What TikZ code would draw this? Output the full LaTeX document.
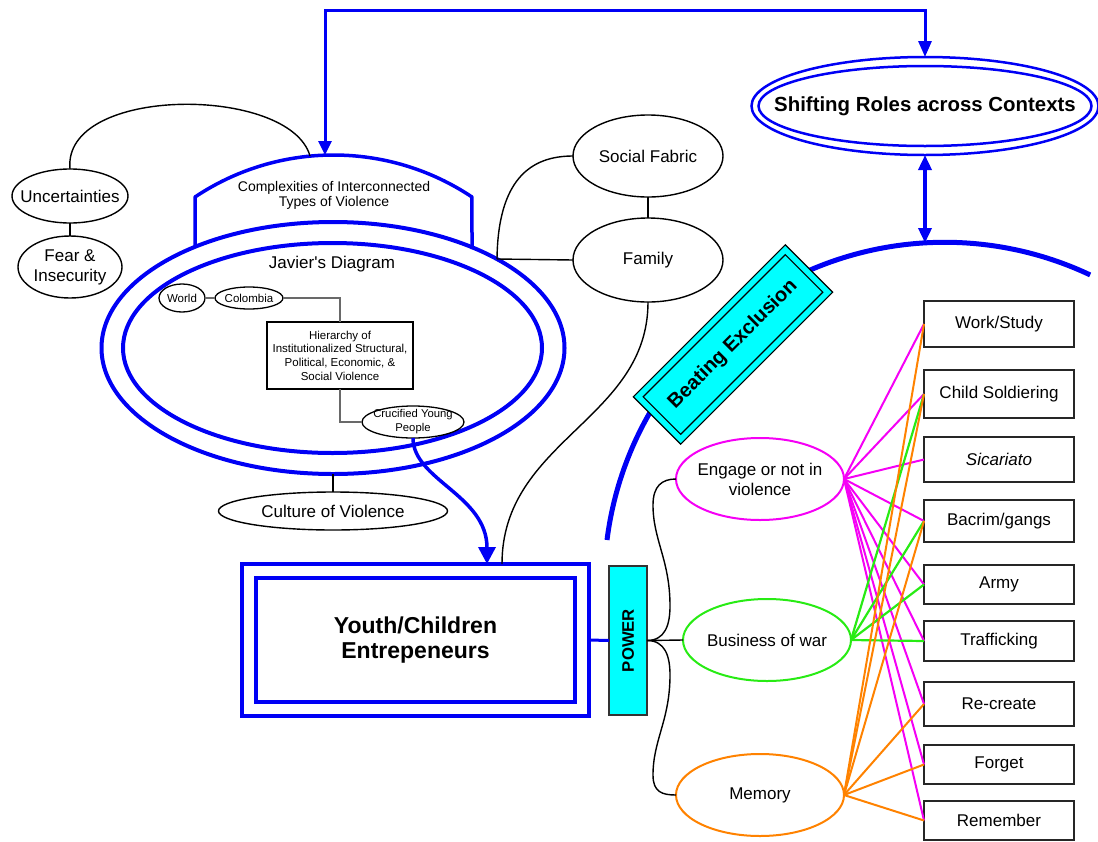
\documentclass[tikz,border=0pt]{standalone}
\usepackage{fontspec}
\usepackage{graphicx}
\setmainfont{Liberation Sans}
% same face without TeX ligature mapping, for a straight apostrophe
\newfontfamily\plainsans{Liberation Sans}
\usetikzlibrary{shapes.geometric,arrows.meta}

\definecolor{cmblue}{RGB}{0,0,245}
\definecolor{cmcyan}{RGB}{0,255,255}
\definecolor{cmmag}{RGB}{245,0,245}
\definecolor{cmgreen}{RGB}{40,235,20}
\definecolor{cmorange}{RGB}{255,130,0}
\definecolor{cmgray}{RGB}{105,105,105}

\newcommand\fsz[2]{\fontsize{#1}{#2}\selectfont}

\begin{document}
\begin{tikzpicture}[x=1pt,y=-1pt,
  every node/.style={inner sep=0pt, outer sep=0pt, text=black},
  oval/.style={ellipse, draw, line width=1.4pt, inner sep=-40pt, align=center, font=\fsz{17}{20}},
  smalloval/.style={ellipse, draw, line width=1.3pt, inner sep=-30pt, align=center},
  conn/.style={line width=1.4pt},
  grayconn/.style={cmgray, line width=1.1pt},
  role/.style={draw=black!85, line width=1.5pt, minimum width=150pt, font=\fsz{17}{20}},
  choice/.style={oval, line width=2pt, minimum width=168pt, minimum height=82pt},
  mlink/.style={cmmag, line width=2pt},
  glink/.style={cmgreen, line width=2.2pt},
  olink/.style={cmorange, line width=2pt},
  bigtip/.style={-{Triangle[length=17pt,width=17pt]}}
]
\useasboundingbox (0,0) rectangle (1098,841);

% ---------- Javier's diagram: two nested ellipses ----------
\node[ellipse, draw=cmblue, line width=4pt, minimum width=463pt, minimum height=252pt] (outerJ) at (333,348) {};
\node[ellipse, draw=cmblue, line width=4pt, minimum width=419pt, minimum height=210pt] (innerJ) at (332.5,348) {};
\node[font=\fsz{17}{20}] (jav) at (332,264) {Javier{\plainsans '}s Diagram};

% dome on top of the outer ellipse
\coordinate (domeL) at (195,247);
\coordinate (domeR) at (472,249);
\coordinate (domeTop) at (325,155);
\coordinate (domeEdge) at (310,156);
\draw[cmblue, line width=3.5pt, line join=round] (domeL) -- (195,197)
  arc[start angle=123.74, end angle=56.26, radius=249.36pt] -- (domeR);
\node[font=\fsz{14}{15.5}, align=center] (cplx) at (334,195.5) {Complexities of Interconnected\\Types of Violence};

% inner items
\node[smalloval, minimum width=46pt, minimum height=28pt, font=\fsz{11.5}{13}] (world) at (182,298) {World};
\node[smalloval, minimum width=68pt, minimum height=22pt, font=\fsz{11.5}{13}] (colombia) at (249,298) {Colombia};
\node[draw, line width=1.3pt, minimum width=146pt, minimum height=67pt, align=center, font=\fsz{11.5}{13.7}] (hier) at (340,355.5)
  {Hierarchy of\\Institutionalized Structural,\\Political, Economic, \&\\Social Violence};
\node[smalloval, minimum width=102pt, minimum height=32pt, font=\fsz{11.3}{14}] (cruc) at (413,422) {Crucified Young\\People};
\draw[grayconn] (world) -- (colombia);
\draw[grayconn] (colombia.east) -| (hier.north);
\draw[grayconn] (hier.south) |- (cruc.west);

% culture of violence
\node[oval, minimum width=229pt, minimum height=38pt] (culture) at (333,511) {Culture of Violence};
\draw[conn] (outerJ.south) -- (culture.north);

% ---------- upper left ----------
\node[oval, minimum width=116pt, minimum height=54pt] (unc) at (70,196) {Uncertainties};
\node[oval, minimum width=104pt, minimum height=62pt] (fear) at (70,267) {Fear \&\\Insecurity};
\draw[conn] (unc.south) -- (fear.north);
\draw[conn] (unc.north) .. controls (62,85) and (290,85) .. (domeEdge);

% ---------- social fabric / family ----------
\node[oval, minimum width=150pt, minimum height=82pt] (sf) at (648,156) {Social Fabric};
\node[oval, minimum width=150pt, minimum height=84pt] (fam) at (648,260) {Family};
\coordinate (junc) at (497,259);
\draw[conn] (sf.south) -- (fam.north);
\draw[conn] (junc) -- (fam.west);
\draw[conn] (junc) .. controls (498,180) and (530,156) .. (sf.west);

% ---------- shifting roles ----------
\node[ellipse, draw=cmblue, line width=2.5pt, minimum width=347pt, minimum height=98pt, inner sep=-40pt,
  font=\bfseries\fsz{20.4}{24}] (shift) at (925,106) {Shifting Roles across Contexts};
\draw[cmblue, line width=2.5pt] (shift.center) ellipse [x radius=166.5pt, y radius=40pt];

% big arc
\coordinate (arcL) at (607,540);
\coordinate (arcTop) at (925,243);
\draw[cmblue, line width=5pt] (arcL) arc[start angle=172.8, end angle=64.7, radius=340.4pt];

% beating exclusion
\node[rotate=45, draw=black, fill=cmcyan, line width=1.2pt, minimum width=215pt, minimum height=67pt] (beat) at (733,344.5) {};
\node[rotate=45, draw=black, line width=1.2pt, minimum width=201pt, minimum height=53pt, font=\bfseries\fsz{20}{22}] (beatIn) at (beat.center) {Beating Exclusion};

% ---------- youth box and power ----------
\node[draw=cmblue, line width=3.5pt, minimum width=347pt, minimum height=152pt, align=center,
  font=\bfseries\fsz{23}{25}] (youth) at (415.5,640) {Youth/Children\\Entrepeneurs};
\node[draw=cmblue, line width=3.5pt, minimum width=319pt, minimum height=124pt] (youthIn) at (youth.center) {};
\node[draw=black!80, fill=cmcyan, line width=1.2pt, minimum width=38pt, minimum height=149pt,
  font=\bfseries\fsz{16.7}{18}] (power) at (628,640.5) {\rotatebox{90}{POWER}};
\draw[cmblue, line width=3pt] (youth.east) -- (power.west);

\coordinate (youthIn1) at (487,564);
\coordinate (youthIn2) at (502,564);
\draw[cmblue, line width=3.5pt, bigtip] (cruc.south) .. controls +(0,42) and +(0,-69) .. (youthIn1);
\draw[conn] (fam.south) .. controls +(0,118) and +(0,-124) .. (youthIn2);

% ---------- blue arrows ----------
\draw[cmblue, line width=3pt, {Triangle[length=14pt,width=13pt]}-{Triangle[length=16pt,width=13pt]}]
  (domeTop) -- ++(0,-145) -| (shift.north);
\draw[cmblue, line width=3.5pt, {Triangle[length=15pt,width=13pt]}-{Triangle[length=15pt,width=13pt]}]
  (shift.south) -- (arcTop);

% ---------- three choices ----------
\node[choice, draw=cmmag] (engage) at (760,479) {Engage or not in\\violence};
\node[choice, draw=cmgreen] (biz) at (767,640) {Business of war};
\node[choice, draw=cmorange] (mem) at (760,795) {Memory};

\draw[conn] (power.east) -- (biz.west);
\draw[conn] (power.east) .. controls (665,640.5) and (670,625) .. (670,606)
  .. controls (670,560) and (653,540) .. (653,505)
  .. controls (653,486) and (662,479) .. (engage.west);
\draw[conn] (power.east) .. controls (665,640.5) and (670,656) .. (670,675)
  .. controls (670,720) and (653,740) .. (653,775)
  .. controls (653,792) and (662,795) .. (mem.west);

% ---------- roles ----------
\node[role, minimum height=46pt] (work) at (999,324) {Work/Study};
\node[role, minimum height=48pt] (child) at (999,394) {Child Soldiering};
\node[role, minimum height=45pt] (sic) at (999,459.5) {\itshape Sicariato};
\node[role, minimum height=42pt] (bacrim) at (999,521) {Bacrim/gangs};
\node[role, minimum height=39pt] (army) at (999,584.5) {Army};
\node[role, minimum height=40pt] (traf) at (999,641) {Trafficking};
\node[role, minimum height=44pt] (recreate) at (999,704) {Re-create};
\node[role, minimum height=39pt] (forget) at (999,764.5) {Forget};
\node[role, minimum height=39pt] (remember) at (999,820.5) {Remember};

\foreach \t in {work,child,sic,bacrim,army,traf,recreate,forget,remember}
  \draw[mlink] (engage.east) -- (\t.west);
\foreach \t in {child,bacrim,army,traf}
  \draw[glink] (biz.east) -- (\t.west);
\foreach \t in {work,child,bacrim,recreate,forget,remember}
  \draw[olink] (mem.east) -- (\t.west);
\end{tikzpicture}
\end{document}
